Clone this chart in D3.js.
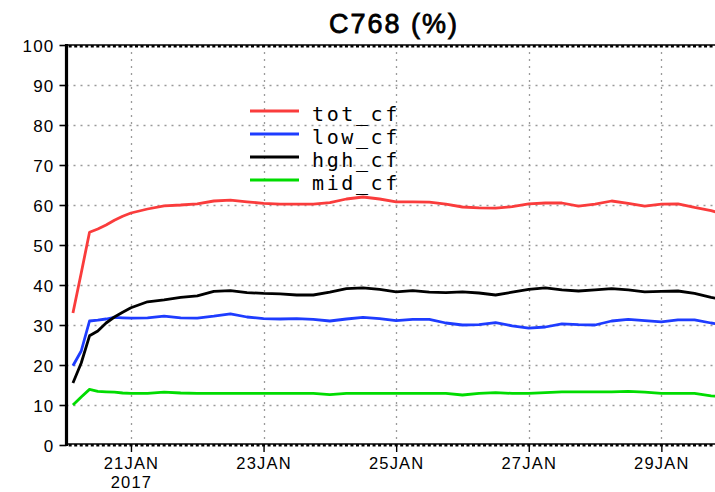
<!DOCTYPE html>
<html>
<head>
<meta charset="utf-8">
<script src="https://cdn.jsdelivr.net/npm/d3@7/dist/d3.min.js"></script>
<style>
  html, body { margin: 0; padding: 0; background: #fff; }
  svg { display: block; }
  .tick text { font-family: "Liberation Sans", Arial, sans-serif; }
</style>
</head>
<body>
<svg id="chart" width="715" height="492"></svg>
<script>
// Hours after 20 JAN 2017 00Z at which cloud fraction is sampled
const hours = [3, 6, 9, 12, 15, 18, 21, 24, 30, 36, 42, 48, 54, 60, 66, 72, 78, 84, 90, 96,
  102, 108, 114, 120, 126, 132, 138, 144, 150, 156, 162, 168, 174, 180, 186, 192, 198,
  204, 210, 216, 222, 228, 234, 237];

const totCf = [33, 43, 53.2, 54, 55, 56.2, 57.2, 58, 59, 59.8, 60, 60.3, 61, 61.2, 60.8, 60.4,
  60.2, 60.2, 60.2, 60.6, 61.5, 62, 61.5, 60.8, 60.8, 60.7, 60.2, 59.5, 59.3, 59.2, 59.6,
  60.3, 60.5, 60.5, 59.7, 60.2, 61, 60.4, 59.7, 60.2, 60.3, 59.4, 58.6, 58];

const lowCf = [19.8, 23.5, 31, 31.2, 31.5, 31.9, 31.8, 31.7, 31.8, 32.2, 31.8, 31.7, 32.2, 32.8,
  32, 31.6, 31.5, 31.6, 31.4, 31, 31.5, 31.9, 31.6, 31.1, 31.4, 31.4, 30.5, 30, 30.1, 30.6,
  29.8, 29.2, 29.5, 30.3, 30.1, 30, 31, 31.4, 31.1, 30.8, 31.3, 31.3, 30.5, 30.2];

const hghCf = [15.5, 20.5, 27.3, 28.5, 30.5, 32, 33.2, 34.3, 35.8, 36.3, 36.9, 37.3, 38.4, 38.6,
  38.1, 37.9, 37.8, 37.5, 37.5, 38.2, 39.1, 39.3, 38.9, 38.3, 38.6, 38.2, 38.1, 38.3, 38,
  37.5, 38.2, 38.9, 39.3, 38.8, 38.5, 38.8, 39.1, 38.8, 38.3, 38.4, 38.5, 37.9, 36.9, 36.5];

const midCf = [10, 12, 13.9, 13.4, 13.3, 13.2, 13, 12.9, 12.9, 13.2, 13, 12.9, 12.9, 12.9, 12.9,
  12.9, 12.9, 12.9, 12.9, 12.6, 12.9, 12.9, 12.9, 12.9, 12.9, 12.9, 12.9, 12.5, 12.9, 13.1,
  12.9, 12.9, 13.1, 13.3, 13.3, 13.3, 13.3, 13.4, 13.2, 12.9, 12.9, 12.9, 12.3, 12.1];

const seriesNames = ["tot_cf", "low_cf", "hgh_cf", "mid_cf"];
const seriesColors = ["#fa3c3c", "#1e3cff", "#000000", "#00dc00"];
const seriesValues = [totCf, lowCf, hghCf, midCf];

const yTicks = [0, 10, 20, 30, 40, 50, 60, 70, 80, 90, 100];
const dateTicks = ["2017-01-21", "2017-01-23", "2017-01-25", "2017-01-27", "2017-01-29"];
const yearLabel = "2017";
const titleText = "C768 (%)";

const base = Date.UTC(2017, 0, 20, 0, 0);
const HOUR = 3600000;
const t0 = new Date(Date.UTC(2017, 0, 20, 0, 40));
const t1 = new Date(Date.UTC(2017, 0, 30, 0, 0));

const plotLeft = 66.5, plotTop = 45, plotBottom = 445;
const pxPerDay = 66.3;
const plotRight = plotLeft + pxPerDay * (t1 - t0) / 86400000;

const svg = d3.select("#chart");

const x = d3.scaleUtc().domain([t0, t1]).range([plotLeft, plotRight]);
const y = d3.scaleLinear().domain([0, 100]).range([plotBottom, plotTop]);

// grid
const grid = svg.append("g").attr("stroke", "#9a9a9a").attr("stroke-width", 1.3)
  .attr("stroke-dasharray", "2,5");
grid.selectAll("line.h").data(yTicks.filter(v => v > 0 && v < 100)).join("line")
  .attr("class", "h")
  .attr("x1", plotLeft).attr("x2", plotRight)
  .attr("y1", d => Math.round(y(d)) + 0.5).attr("y2", d => Math.round(y(d)) + 0.5);
const dateVals = dateTicks.map(s => new Date(s + "T00:00:00Z"));
grid.selectAll("line.v").data(dateVals).join("line")
  .attr("class", "v")
  .attr("x1", d => Math.round(x(d)) + 0.5).attr("x2", d => Math.round(x(d)) + 0.5)
  .attr("y1", plotTop).attr("y2", plotBottom);

// series lines
const line = d3.line()
  .x((d, i) => x(new Date(base + hours[i] * HOUR)))
  .y(d => y(d));
svg.append("g").selectAll("path").data(seriesValues).join("path")
  .attr("d", d => line(d))
  .attr("fill", "none")
  .attr("stroke", (d, i) => seriesColors[i])
  .attr("stroke-width", 2.8)
  .attr("stroke-linejoin", "round");

// frame
svg.append("line").attr("x1", plotLeft).attr("x2", plotRight + 5).attr("y1", plotTop).attr("y2", plotTop)
  .attr("stroke", "#000").attr("stroke-width", 1.6);
svg.append("line").attr("x1", plotLeft).attr("x2", plotRight + 5).attr("y1", plotBottom - 1).attr("y2", plotBottom - 1)
  .attr("stroke", "#000").attr("stroke-width", 1.6);

// minor time ticks along top and bottom edges
const minor = d3.utcHour.every(2).range(t0, t1);
svg.append("g").selectAll("line").data(minor).join("line")
  .attr("x1", d => x(d)).attr("x2", d => x(d))
  .attr("y1", plotTop).attr("y2", plotTop + 2.5)
  .attr("stroke", "#000").attr("stroke-width", 3);
svg.append("g").selectAll("line").data(minor).join("line")
  .attr("x1", d => x(d)).attr("x2", d => x(d))
  .attr("y1", plotBottom - 1).attr("y2", plotBottom + 1.5)
  .attr("stroke", "#000").attr("stroke-width", 3);

// y axis
const yAxis = d3.axisLeft(y).tickValues(yTicks).tickSize(7).tickPadding(5);
const gy = svg.append("g").attr("transform", `translate(${plotLeft},0)`).call(yAxis);
gy.select(".domain").attr("stroke-width", 3.2).attr("d", `M0,${plotTop - 1}V${plotBottom + 1}`);
gy.selectAll(".tick line").attr("stroke-width", 1.6);
gy.selectAll(".tick text").attr("font-size", 17).attr("letter-spacing", 1.2)
  .attr("fill", "#000").attr("dy", "0.36em");

// x axis: date labels, with the year under the first one
const fmt = d3.utcFormat("%d%b");
const xAxis = d3.axisBottom(x).tickValues(dateVals).tickSize(7).tickPadding(4)
  .tickFormat(d => fmt(d).toUpperCase());
const gx = svg.append("g").attr("transform", `translate(0,${plotBottom})`).call(xAxis);
gx.select(".domain").remove();
gx.selectAll(".tick line").attr("stroke-width", 1.4);
gx.selectAll(".tick text").attr("font-size", 16.5).attr("letter-spacing", 1.2)
  .attr("fill", "#000").attr("y", 24).attr("dy", 0);
gx.select(".tick").append("text")
  .attr("y", 43).attr("text-anchor", "middle")
  .attr("font-size", 16.5).attr("letter-spacing", 1.2).attr("fill", "#000")
  .text(yearLabel);

// title
svg.append("text").attr("x", 394).attr("y", 33).attr("text-anchor", "middle")
  .attr("font-family", "'Liberation Sans', Arial, sans-serif")
  .attr("font-size", 27).attr("letter-spacing", 2)
  .attr("stroke", "#000").attr("stroke-width", 0.8)
  .text(titleText);

// legend
const legend = svg.append("g");
const rowY = d3.scalePoint().domain(seriesNames).range([111, 180]);
const rows = legend.selectAll("g").data(seriesNames).join("g")
  .attr("transform", d => `translate(0,${rowY(d)})`);
rows.append("line").attr("x1", 250).attr("x2", 299)
  .attr("stroke", (d, i) => seriesColors[i]).attr("stroke-width", 3);
rows.append("text").attr("x", 312).attr("y", 10)
  .attr("font-family", "'DejaVu Sans Mono', monospace").attr("font-size", 20)
  .attr("letter-spacing", 2.6).attr("fill", "#000")
  .text(d => d);
</script>
</body>
</html>
